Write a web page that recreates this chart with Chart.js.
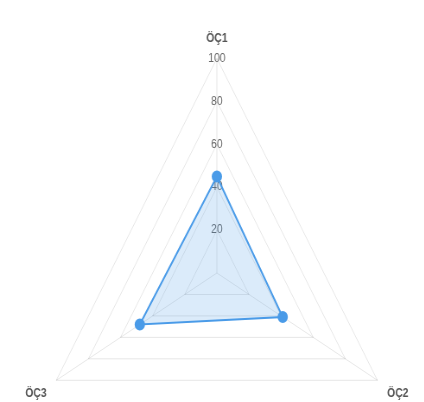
<!DOCTYPE html>
<html>
<head>
<meta charset="utf-8">
<script src="https://cdn.jsdelivr.net/npm/chart.js@4"></script>
<style>
  html, body { margin: 0; padding: 0; overflow: hidden; background: #fff; width: 424px; height: 402px; }
  /* the reference is horizontally squeezed, so draw wider and scale down */
  #wrap { width: 502px; height: 484px; margin-top: 22px; transform: scaleX(0.864); transform-origin: 0 0; }
</style>
</head>
<body>
<div id="wrap"><canvas id="radarChart"></canvas></div>
<script>
var labels = ["ÖÇ1", "ÖÇ2", "ÖÇ3"];
var scores = [45, 41, 48];
var tickMax = 100;
var tickStep = 20;

document.addEventListener('DOMContentLoaded', function() {
	var ctx = document.getElementById('radarChart').getContext('2d');
	var radarChart = new Chart(ctx, {
		type: 'radar',
		data: {
			labels: labels,
			datasets: [{
				label: 'Puan',
				data: scores,
				backgroundColor: 'rgba(74, 155, 232, 0.2)',
				borderColor: 'rgba(74, 155, 232, 1)',
				pointBackgroundColor: 'rgba(74, 155, 232, 1)',
				pointBorderColor: 'rgba(74, 155, 232, 1)',
				pointRadius: 5,
				borderWidth: 2
			}]
		},
		options: {
			responsive: true,
			maintainAspectRatio: false,
			animation: false,
			plugins: {
				legend: { display: false },
				tooltip: { enabled: false }
			},
			scales: {
				r: {
					min: 0,
					max: tickMax,
					beginAtZero: true,
					grid: { color: 'rgba(0, 0, 0, 0.1)' },
					angleLines: { color: 'rgba(0, 0, 0, 0.1)' },
					ticks: {
						stepSize: tickStep,
						showLabelBackdrop: false,
						color: '#666',
						font: { family: 'Liberation Sans', size: 12 }
					},
					pointLabels: {
						color: '#555',
						font: { family: 'Liberation Sans', size: 12, weight: 'bold' }
					}
				}
			}
		}
	});
});
</script>
</body>
</html>
